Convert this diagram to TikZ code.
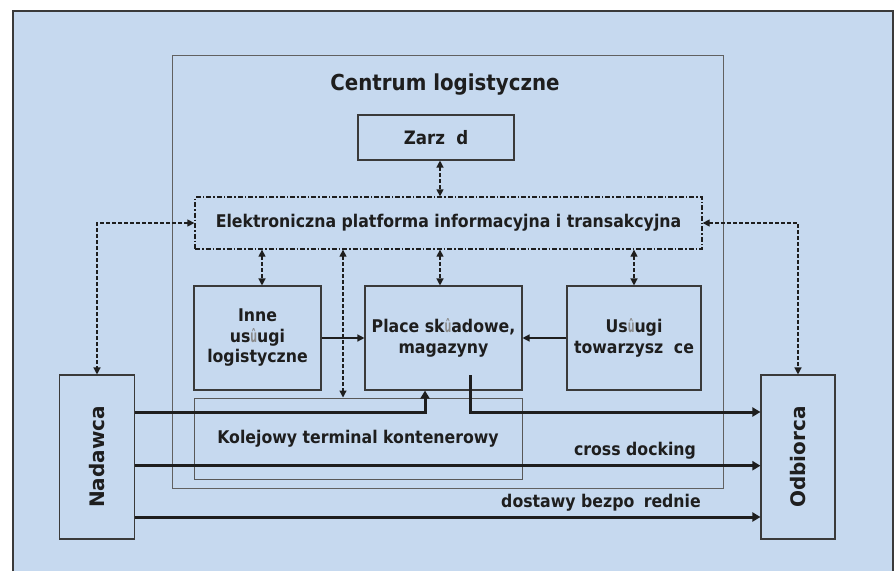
\documentclass[tikz,border=0pt]{standalone}
\usepackage{fontspec}
\usepackage{graphicx}
\usetikzlibrary{arrows.meta,calc}
\newfontfamily\condf{DejaVu Sans}[FakeStretch=0.9]
\newfontfamily\widef{DejaVu Sans}
\definecolor{bgblue}{HTML}{C6D9EF}
\definecolor{edge}{HTML}{3A3A3A}
\definecolor{ink}{HTML}{1E1E1E}
\newcommand\lglyph{{\color{black!45}\scalebox{0.6}[1]{û}}}
\begin{document}
\begin{tikzpicture}[x=1pt,y=-1pt,
  txt/.style={font=\condf\bfseries\fontsize{17.5}{20.5}\selectfont, text=ink, align=center, inner sep=0pt},
  boxnode/.style={txt, draw=edge, line width=1.1pt, rectangle},
  dasharrow/.style={draw=ink, line width=1.3pt, dash pattern=on 3.5pt off 2.5pt,
     {Triangle[length=7pt,width=7pt]}-{Triangle[length=7pt,width=7pt]}},
  thinarrow/.style={draw=ink, line width=1.3pt, -{Triangle[length=7pt,width=7pt]}},
  thickarrow/.style={draw=ink, line width=3pt, -{Triangle[length=8pt,width=9pt]}}
]
\fill[white] (0,0) rectangle (894,571);
\useasboundingbox (0,0) rectangle (894,571);
% outer background
\fill[bgblue] (13,11) rectangle (893,571);
\draw[edge, line width=1.5pt] (13,571) -- (13,11) -- (893,11) -- (893,571);

% centrum
\node[draw=edge!80, line width=1pt, minimum width=551pt, minimum height=433pt, inner sep=0pt] (centrum) at (447.5,271.5) {};
\node[txt, font=\condf\bfseries\fontsize{22}{26}\selectfont, anchor=base] (ctitle) at (445,90) {Centrum logistyczne};

\node[boxnode, minimum width=156pt, minimum height=45pt, font=\condf\bfseries\fontsize{18.5}{22}\selectfont] (zarzad) at (436,137.5) {Zarz\hphantom{ą}d};
\node[txt, draw=ink, line width=1.3pt, dash pattern=on 5pt off 2pt on 1.5pt off 2pt,
      minimum width=507pt, minimum height=52pt] (plat) at (448.5,223)
      {Elektroniczna platforma informacyjna i transakcyjna};

\node[boxnode, minimum width=127pt, minimum height=104pt] (inne) at (257.5,338) {Inne\\us\lglyph ugi\\logistyczne};
\node[boxnode, minimum width=157pt, minimum height=104pt] (place) at (443.5,338) {Place sk\lglyph adowe,\\magazyny};
\node[boxnode, minimum width=134pt, minimum height=104pt] (uslugi) at (634,338) {Us\lglyph ugi\\towarzysz\hphantom{ą}ce};
\node[boxnode, draw=edge!85, line width=1pt, minimum width=328pt, minimum height=81pt] (kolej) at (358,438.5) {Kolejowy terminal kontenerowy};

\node[boxnode, minimum width=74.5pt, minimum height=164pt, font=\widef\bfseries\fontsize{20}{22}\selectfont] (nadawca) at (97,457) {\rotatebox{90}{Nadawca}};
\node[boxnode, minimum width=74pt, minimum height=164pt, font=\widef\bfseries\fontsize{20}{22}\selectfont] (odbiorca) at (798,457) {\rotatebox{90}{Odbiorca}};

% helper coordinates
\coordinate (xZ) at (440,0);
\coordinate (xI) at (262,0);
\coordinate (xK) at (343,0);
\coordinate (xU) at (425,0);
\coordinate (yA) at (0,412);
\coordinate (yB) at (0,465.7);
\coordinate (yC) at (0,517);
\coordinate (pstart) at (470,375);

% dashed connectors
\draw[dasharrow] (zarzad.south -| xZ) -- (plat.north -| xZ);
\draw[dasharrow] (plat.south -| xI) -- (inne.north -| xI);
\draw[dasharrow] (plat.south -| xZ) -- (place.north -| xZ);
\draw[dasharrow] (plat.south -| uslugi.north) -- (uslugi.north);
\draw[dasharrow] (plat.south -| xK) -- (kolej.north -| xK);
\draw[dasharrow] (plat.west) -| (nadawca.north);
\draw[dasharrow] (plat.east) -| (odbiorca.north);

% thin arrows
\draw[thinarrow] (inne.east) -- (place.west);
\draw[thinarrow] (uslugi.west) -- (place.east);

% thick flows
\draw[thickarrow] (nadawca.east |- yA) -| (place.south -| xU);
\draw[thickarrow] (pstart) |- (odbiorca.west |- yA);
\draw[thickarrow] (nadawca.east |- yB) -- (odbiorca.west |- yB);
\draw[thickarrow] (nadawca.east |- yC) -- (odbiorca.west |- yC);

\node[txt] (cd) at (635,451) {cross docking};
\node[txt] (db) at (601,503) {dostawy bezpo\hphantom{ś}rednie};
\end{tikzpicture}
\end{document}
